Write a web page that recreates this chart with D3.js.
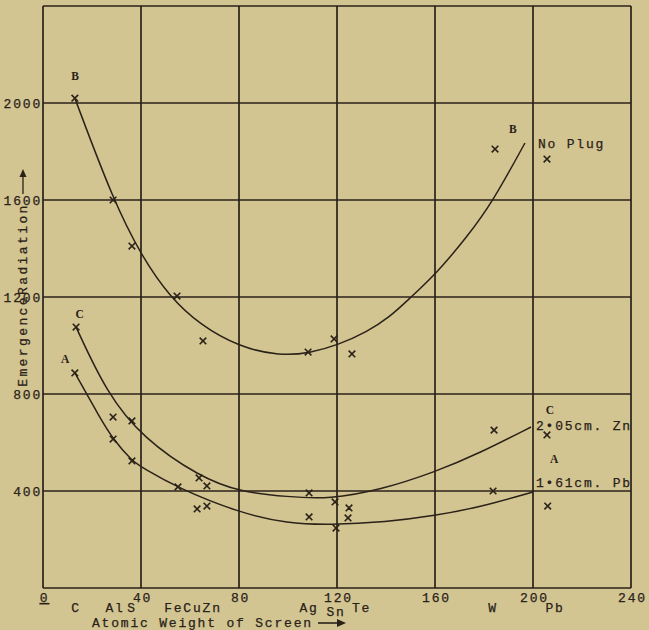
<!DOCTYPE html>
<html>
<head>
<meta charset="utf-8">
<script src="https://cdn.jsdelivr.net/npm/d3@7"></script>
<style>
  html, body { margin: 0; padding: 0; background: #d2c592; }
  svg { display: block; }
  .mono { font-family: "Liberation Mono", "DejaVu Sans Mono", monospace; letter-spacing: 1.8px; fill: #2a2118; stroke: #2a2118; stroke-width: 0.25px; }
  .letter { font-family: "Liberation Serif", serif; font-weight: bold; font-size: 11.5px; fill: #2a2118; }
</style>
</head>
<body>
<div id="chart"></div>
<script>
// data read from the plate (atomic weight, emergent radiation)
const xTicks = [0, 40, 80, 120, 160, 200, 240];
const yTicks = [0, 400, 800, 1200, 1600, 2000, 2400];
const yTickLabels = [400, 800, 1200, 1600, 2000];

// measured points, one list per screen setup
const pointsB = [[13, 2020], [28.6, 1600], [36.3, 1410], [54.7, 1204], [65.3, 1019],
  [108.2, 973], [118.8, 1027], [126.1, 965], [184.5, 1810], [205.7, 1769]];
const pointsC = [[13.5, 1076], [28.6, 705], [36.3, 689], [63.7, 454], [66.9, 421],
  [108.6, 392], [119.2, 355], [124.9, 330], [184.1, 651], [205.7, 631]];
const pointsA = [[13, 887], [28.6, 614], [36.3, 524], [55.1, 417], [62.9, 326], [66.9, 338],
  [108.6, 293], [119.6, 247], [124.5, 289], [183.7, 400], [206, 338]];

const curveB = [[13, 2020], [28.6, 1600], [40.4, 1365], [51.8, 1200], [64.1, 1085], [80, 994],
  [96.7, 957], [109, 969], [120.4, 1002], [132.2, 1056], [141.6, 1118], [149.4, 1192],
  [160.4, 1295], [173, 1447], [183.3, 1588], [196.7, 1835]];
const curveC = [[13.5, 1076], [26, 804], [40.8, 618], [64, 458], [80.4, 396], [100, 376],
  [117, 367], [137.6, 404], [160, 478], [178.4, 557], [199.2, 664]];
const curveA = [[13, 887], [23.3, 701], [28.6, 614], [36.3, 524], [40.8, 495], [55.1, 412],
  [80.4, 309], [100, 266], [117, 260], [140, 272], [160, 298], [178.4, 334], [200, 396]];

// element names under the axis
const elements = [
  {name: "C", x: 13.5, row: 1}, {name: "Al", x: 29.4, row: 1}, {name: "S", x: 36.3, row: 1},
  {name: "FeCuZn", x: 61.2, row: 1}, {name: "Ag", x: 108.6, row: 1}, {name: "Sn", x: 119.6, row: 2},
  {name: "Te", x: 130, row: 1}, {name: "W", x: 183.7, row: 1}, {name: "Pb", x: 209, row: 1}
];

// curve letters and captions
const letters = [
  {t: "B", x: 13.1, y: 2111}, {t: "C", x: 15, y: 1130}, {t: "A", x: 9, y: 943},
  {t: "B", x: 191.8, y: 1893}, {t: "C", x: 206.9, y: 734}, {t: "A", x: 208.6, y: 532}
];
const captions = [
  {t: "No Plug", x: 202, y: 1814},
  {t: "2•05cm. Zn", x: 201.2, y: 652},
  {t: "1•61cm. Pb", x: 201.2, y: 418}
];

const width = 649, height = 630;
const margin = {top: 6, right: 18, bottom: 42, left: 43};
const ink = "#2a2118";

const svg = d3.select("#chart").append("svg")
  .attr("width", width)
  .attr("height", height);

svg.append("rect")
  .attr("width", width).attr("height", height)
  .attr("fill", "#d2c592");

const xScale = d3.scaleLinear().domain([0, 240]).range([margin.left, width - margin.right]);
const yScale = d3.scaleLinear().domain([0, 2400]).range([height - margin.bottom, margin.top]);

// grid
const grid = svg.append("g");
grid.selectAll("line.v")
  .data(xTicks)
  .join("line")
  .attr("class", "v")
  .attr("x1", d => xScale(d)).attr("x2", d => xScale(d))
  .attr("y1", yScale(0)).attr("y2", yScale(2400))
  .attr("stroke", ink).attr("stroke-width", 1.7);
grid.selectAll("line.h")
  .data(yTicks)
  .join("line")
  .attr("class", "h")
  .attr("x1", xScale(0)).attr("x2", xScale(240))
  .attr("y1", d => yScale(d)).attr("y2", d => yScale(d))
  .attr("stroke", ink).attr("stroke-width", 1.7);

// y tick labels
svg.selectAll("text.ylab")
  .data(yTickLabels)
  .join("text")
  .attr("class", "ylab mono")
  .attr("x", xScale(0) - 1)
  .attr("y", d => yScale(d))
  .attr("dy", "0.35em")
  .attr("text-anchor", "end")
  .style("font-size", "13px")
  .text(d => d);

// x tick labels
svg.selectAll("text.xlab")
  .data(xTicks)
  .join("text")
  .attr("class", "xlab mono")
  .attr("x", d => xScale(d) + 1.5)
  .attr("y", yScale(0) + 14)
  .attr("text-anchor", "middle")
  .style("font-size", "13px")
  .style("text-decoration", d => d === 0 ? "underline" : null)
  .text(d => d);

// element symbols
svg.selectAll("text.el")
  .data(elements)
  .join("text")
  .attr("class", "el mono")
  .attr("x", d => xScale(d.x))
  .attr("y", d => yScale(0) + (d.row === 1 ? 24 : 28))
  .attr("text-anchor", "middle")
  .style("font-size", "13px")
  .text(d => d.name);

// axis titles
svg.append("text")
  .attr("class", "mono")
  .attr("x", 92)
  .attr("y", 627)
  .style("font-size", "13px")
  .text("Atomic Weight of Screen");
svg.append("line")
  .attr("x1", 318).attr("x2", 343)
  .attr("y1", 623).attr("y2", 623)
  .attr("stroke", ink).attr("stroke-width", 1.6);
svg.append("path")
  .attr("d", "M337,619 L346,623 L337,627 Z")
  .attr("fill", ink);

svg.append("text")
  .attr("class", "mono")
  .attr("transform", "translate(27,295) rotate(-90)")
  .attr("text-anchor", "middle")
  .style("font-size", "13px")
  .style("letter-spacing", "2.4px")
  .text("EmergenceRadiation");
svg.append("line")
  .attr("x1", 23).attr("x2", 23)
  .attr("y1", 194).attr("y2", 172)
  .attr("stroke", ink).attr("stroke-width", 1.3);
svg.append("path")
  .attr("d", "M19.5,177 L23,169 L26.5,177 Z")
  .attr("fill", ink);

// curves (basis smooths out small reading noise)
const line = d3.line()
  .x(d => xScale(d[0]))
  .y(d => yScale(d[1]))
  .curve(d3.curveBasis);

svg.selectAll("path.curve")
  .data([curveB, curveC, curveA])
  .join("path")
  .attr("class", "curve")
  .attr("d", line)
  .attr("fill", "none")
  .attr("stroke", ink)
  .attr("stroke-width", 1.5);

// cross markers
const allPoints = pointsB.concat(pointsC, pointsA);
const s = 3.3;
svg.selectAll("path.pt")
  .data(allPoints)
  .join("path")
  .attr("class", "pt")
  .attr("d", d => {
    const px = xScale(d[0]), py = yScale(d[1]);
    return `M${px - s},${py - s}L${px + s},${py + s}M${px - s},${py + s}L${px + s},${py - s}`;
  })
  .attr("stroke", ink)
  .attr("stroke-width", 1.6);

// labels
svg.selectAll("text.letter")
  .data(letters)
  .join("text")
  .attr("class", "letter")
  .attr("x", d => xScale(d.x))
  .attr("y", d => yScale(d.y))
  .attr("dy", "0.35em")
  .attr("text-anchor", "middle")
  .text(d => d.t);

svg.selectAll("text.cap")
  .data(captions)
  .join("text")
  .attr("class", "cap mono")
  .attr("x", d => xScale(d.x))
  .attr("y", d => yScale(d.y))
  .style("font-size", "13px")
  .text(d => d.t);
</script>
</body>
</html>
